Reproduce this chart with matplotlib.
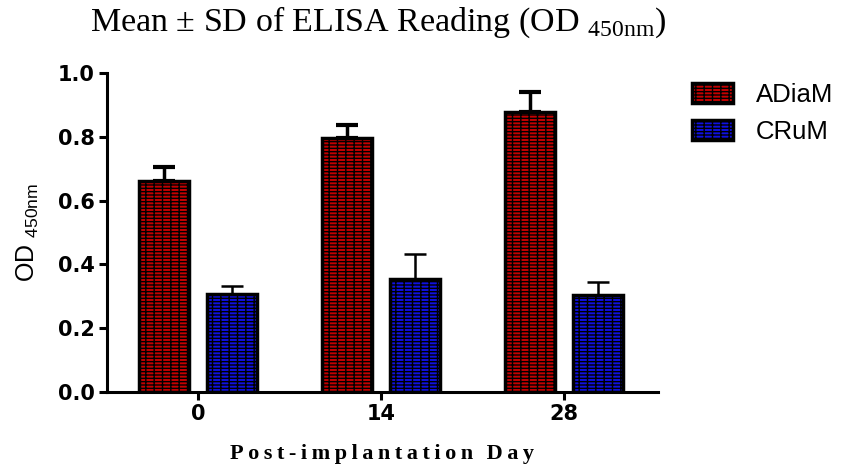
import matplotlib
matplotlib.use("Agg")
import matplotlib.pyplot as plt
import numpy as np

# --------------------- Data ---------------------
days = ['0', '14', '28']
adiam_mean = [0.661, 0.796, 0.878]
adiam_sd = [0.044, 0.041, 0.062]
crum_mean = [0.307, 0.354, 0.304]
crum_sd = [0.025, 0.079, 0.041]

# --------------------- Plot ---------------------
plt.rcParams['hatch.linewidth'] = 1.0

fig = plt.figure(figsize=(8.5, 4.7), dpi=100)
ax = fig.add_axes([0.1259, 0.166, 0.648, 0.6787])

x = np.arange(len(days))
w = 0.273
off = 0.186

bar_kw = dict(width=w, edgecolor='black', linewidth=2.5, hatch='-----||')
b1 = ax.bar(x - off, adiam_mean, yerr=[np.zeros(3), adiam_sd], color='#c40000',
            label='ADiaM', error_kw=dict(elinewidth=2.5, capsize=8, capthick=3.0, ecolor='black'),
            **bar_kw)
b2 = ax.bar(x + off, crum_mean, yerr=[np.zeros(3), crum_sd], color='#1010e0',
            label='CRuM', error_kw=dict(elinewidth=1.8, capsize=8, capthick=1.8, ecolor='black'),
            **bar_kw)

ax.set_xlim(-0.497, 2.514)
ax.set_ylim(0, 1.0)
ax.set_yticks([0.0, 0.2, 0.4, 0.6, 0.8, 1.0])
ax.set_yticklabels(['0.0', '0.2', '0.4', '0.6', '0.8', '1.0'])
ax.set_xticks(x)
ax.set_xticklabels(days)

for s in ['top', 'right']:
    ax.spines[s].set_visible(False)
for s in ['left', 'bottom']:
    ax.spines[s].set_linewidth(2.2)
ax.tick_params(axis='both', width=2.2, length=6, direction='out', pad=3)
for lab in ax.get_xticklabels() + ax.get_yticklabels():
    lab.set_fontfamily('DejaVu Sans')
    lab.set_fontweight('bold')
    lab.set_fontsize(15)

ax.set_ylabel(r'OD $_{\mathregular{450nm}}$', fontsize=18,
              fontfamily='Liberation Sans', labelpad=12)
xl = '\u2009'.join('Post-implantation') + '\u2009\u2009\u2009' + '\u2009'.join('Day')
ax.set_xlabel(xl, fontsize=16, fontweight='bold',
              fontfamily=['Liberation Serif', 'DejaVu Serif'], labelpad=14)

fig.text(0.106, 0.953, 'Mean \u00b1 SD of ELISA Reading (OD $_{\\mathregular{450nm}}$)',
         fontsize=24.5, fontfamily='Liberation Serif', va='center', ha='left')

leg = fig.legend(handles=[b1, b2], labels=['ADiaM', 'CRuM'], loc='upper left',
                 bbox_to_anchor=(0.814, 0.823), frameon=False, borderaxespad=0, borderpad=0,
                 prop=dict(family='Liberation Sans', size=18.5),
                 handlelength=1.6, handleheight=0.8, handletextpad=0.9, labelspacing=0.5)

fig.savefig('out.png', dpi=100)
